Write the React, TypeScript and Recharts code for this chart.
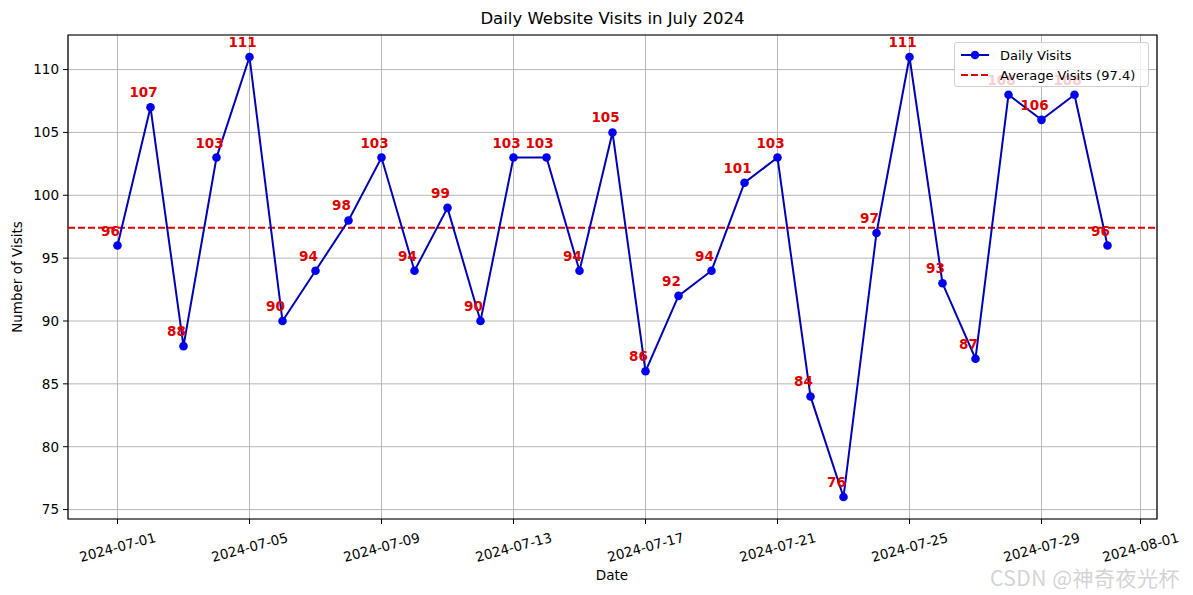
import React from "react";
import {
  LineChart, Line, XAxis, YAxis, CartesianGrid, ReferenceLine, ReferenceArea,
  Legend, LabelList, Label,
} from "recharts";

// visites quotidiennes, 1er au 31 juillet 2024
const dates = Array.from({ length: 31 }, (_, i) => `2024-07-${String(i + 1).padStart(2, "0")}`);
const visits = [
  96, 107, 88, 103, 111, 90, 94, 98, 103, 94, 99, 90, 103, 103, 94, 105,
  86, 92, 94, 101, 103, 84, 76, 97, 111, 93, 87, 108, 106, 108, 96,
];
const tickDays = [1, 5, 9, 13, 17, 21, 25, 29, 32];
const tickLabels = [
  "2024-07-01", "2024-07-05", "2024-07-09", "2024-07-13", "2024-07-17",
  "2024-07-21", "2024-07-25", "2024-07-29", "2024-08-01",
];
const yTicks = [75, 80, 85, 90, 95, 100, 105, 110];

const average = visits.reduce((s, v) => s + v, 0) / visits.length;
const data = visits.map((v, i) => ({ day: i + 1, date: dates[i], visits: v }));

const FONT = "DejaVu Sans, sans-serif";
const LINE = "#0000b4";
const DOT = "#0000f0";
const RED = "#dd0000";

function DateTick({ x, y, payload }: any) {
  const idx = tickDays.indexOf(payload.value);
  const cy = y + 21;
  return (
    <text
      x={x}
      y={cy}
      textAnchor="middle"
      dominantBaseline="central"
      transform={`rotate(-15 ${x} ${cy})`}
      fontSize={13.5}
      fontFamily={FONT}
      fill="#000"
    >
      {tickLabels[idx]}
    </text>
  );
}

function PointLabel({ x, y, value }: any) {
  return (
    <text x={x - 7} y={y - 10} textAnchor="middle" fontSize={13.5} fontWeight="bold" fontFamily={FONT} fill={RED}>
      {value}
    </text>
  );
}

function LegendBox() {
  const row = { display: "flex", alignItems: "center", height: 20, whiteSpace: "nowrap" as const };
  return (
    <div
      style={{
        background: "rgba(255,255,255,0.8)",
        border: "1px solid #d0d0d0",
        borderRadius: 3,
        padding: "2px 5px",
        fontFamily: FONT,
        fontSize: 13,
        color: "#000",
        boxSizing: "border-box",
        height: 45,
        width: 195,
      }}
    >
      <div style={row}>
        <svg width={30} height={10} style={{ marginRight: 10, flexShrink: 0 }}>
          <line x1={1} y1={5} x2={29} y2={5} stroke={LINE} strokeWidth={2} />
          <circle cx={15} cy={5} r={4.3} fill={DOT} />
        </svg>
        Daily Visits
      </div>
      <div style={row}>
        <svg width={30} height={10} style={{ marginRight: 10, flexShrink: 0 }}>
          <line x1={1} y1={5} x2={29} y2={5} stroke={RED} strokeWidth={2} strokeDasharray="7 3" />
        </svg>
        Average Visits ({average.toFixed(1)})
      </div>
    </div>
  );
}

export default function App() {
  return (
    <div style={{ position: "absolute", left: 0, top: 0, width: 1193, height: 595, background: "#fff" }}>
      <div
        style={{
          position: "absolute", top: 9, left: 68, width: 1089, textAlign: "center",
          fontFamily: FONT, fontSize: 16.5, color: "#000",
        }}
      >
        Daily Website Visits in July 2024
      </div>
      <LineChart width={1193} height={595} data={data} margin={{ top: 35, right: 36, left: 0, bottom: 0 }}>
        <CartesianGrid stroke="#b0b0b0" strokeWidth={0.9} />
        <XAxis
          dataKey="day"
          type="number"
          domain={[-0.5, 32.5]}
          ticks={tickDays}
          allowDataOverflow
          height={76}
          tick={<DateTick />}
          tickSize={5}
          stroke="#000"
          axisLine={false}
          tickLine={{ stroke: "#000" }}
        >
          <Label
            content={() => (
              <text x={612} y={580} textAnchor="middle" fontSize={13.5} fontFamily={FONT} fill="#000">Date</text>
            )}
          />
        </XAxis>
        <YAxis
          type="number"
          domain={[74.25, 112.75]}
          ticks={yTicks}
          allowDataOverflow
          width={68}
          tickSize={5}
          tickMargin={4}
          axisLine={false}
          tickLine={{ stroke: "#000" }}
          tick={{ fontSize: 13.5, fontFamily: FONT, fill: "#000" }}
        >
          <Label
            content={() => (
              <text
                x={22}
                y={277}
                textAnchor="middle"
                transform="rotate(-90 22 277)"
                fontSize={13.5}
                fontFamily={FONT}
                fill="#000"
              >
                Number of Visits
              </text>
            )}
          />
        </YAxis>
        <Line dataKey="visits" stroke="none" dot={false} activeDot={false} isAnimationActive={false} legendType="none">
          <LabelList dataKey="visits" content={<PointLabel />} />
        </Line>
        <ReferenceLine y={average} stroke={RED} strokeWidth={2} strokeDasharray="7 3" />
        <Line
          dataKey="visits"
          stroke={LINE}
          strokeWidth={2}
          dot={{ r: 4.3, fill: DOT, stroke: DOT, strokeWidth: 0 }}
          activeDot={false}
          isAnimationActive={false}
        />
        <ReferenceArea x1={-0.5} x2={32.5} y1={74.25} y2={112.75} fill="none" stroke="#000" strokeWidth={1.2} ifOverflow="visible" />
        <Legend
          layout="vertical"
          align="center"
          verticalAlign="middle"
          content={<LegendBox />}
          wrapperStyle={{ position: "absolute", top: 42, left: 954, width: 195 }}
        />
      </LineChart>
      <div
        style={{
          position: "absolute", left: 990, top: 562, fontFamily: "Noto Sans CJK SC, sans-serif",
          fontSize: 21, color: "#d4d4d4", whiteSpace: "nowrap", letterSpacing: 0.5,
        }}
      >
        CSDN @神奇夜光杯
      </div>
    </div>
  );
}
